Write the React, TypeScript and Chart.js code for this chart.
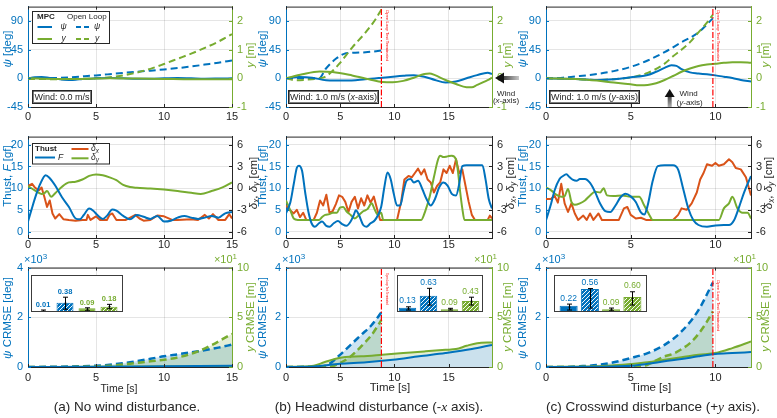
import React, { useEffect, useRef } from 'react';
import { Chart, registerables } from 'chart.js';
Chart.register(...registerables);

const FONT = '"Liberation Sans", Arial, Helvetica, sans-serif';
const SERIF = '"Liberation Serif", "DejaVu Serif", serif';
const BLUE = '#0072BD';
const GREEN = '#77AC30';
const ORANGE = '#D95319';
const RED = '#FF0000';
const INK = '#262626';
const GRID = 'rgba(38,38,38,0.12)';
const BLUE_FILL = 'rgba(0,114,189,0.2)';
const BLUE_FILL_SOLID = 'rgba(199,223,240,0.88)';
const GREEN_FILL = 'rgba(119,172,48,0.2)';

// ---------- ticks & ranges ----------
const timeTicks = [[0, 5, 10, 15], [0, 5, 10, 15], [0, 5, 10]];
const timeMax = [15, 19, 12.1];
const psiTicks = [-45, 0, 45, 90];
const psiRange = [-45, 112.5];
const yTicks = [-1, 0, 1, 2];
const yRange = [-1, 2.5];
const thrustTicks = [0, 5, 10, 15, 20];
const thrustRange = [-1.5, 21.9];
const deltaTicks = [-6, -3, 0, 3, 6];
const deltaRange = [-6.9, 7.14];
const crmsePsiTicks = [0, 2, 4];
const crmsePsiRange = [0, 4];
const crmseYTicks = [0, 5, 10];
const crmseYRange = [0, 10];
const olStop = [null, 8.8, 9.85];
const windArrowT = 7.3;

// ---------- (a) no wind ----------
const a1PsiMpc = [[0,0],[0.5,1.5],[1,2],[1.5,1],[2,-0.5],[3,-2.6],[3.5,-2.3],[4,-1],[5,0],[6,0.5],[7,0],[8,-0.5],[9,-0.5],[10,0],[11,0.5],[12,0],[13,-0.5],[14,-0.3],[15,0]];
const a1YMpc = [[0,0],[2,-0.02],[4,-0.02],[6,0],[8,-0.01],[10,-0.02],[12,-0.03],[15,-0.03]];
const a1PsiOL = [[0,0],[1,0.2],[2,0.6],[3,1.5],[4,3],[5,4.6],[6,6.5],[7,8.5],[8,10.3],[9,12],[10,14],[11,16],[12,18.5],[13,21.5],[14,24.5],[15,28]];
const a1YOL = [[0,-0.02],[2,-0.03],[4,-0.02],[5,0],[6,0.04],[7,0.1],[8,0.2],[9,0.33],[10,0.5],[11,0.68],[12,0.86],[13,1.06],[14,1.28],[15,1.54]];

const a2F = [[0,2.3],[0.3,5.5],[0.6,8.5],[0.9,11],[1.3,13],[1.6,12.3],[2,10.6],[2.5,7.9],[3,5.7],[3.5,3],[3.8,2.8],[4.1,3.8],[4.5,5.3],[4.8,4.8],[5.1,3.8],[5.5,2.9],[5.8,3.6],[6.2,5.1],[6.5,4.8],[7,3.6],[7.5,2.8],[8,3.8],[8.5,3.4],[9,2.9],[9.5,3.6],[10,2.3],[10.5,2.5],[11,3.2],[11.5,3.6],[12,3.2],[12.5,2.9],[13,3.2],[13.5,3.6],[14,3.2],[14.5,4.2],[15,4.5]];
const a2Dx = [[0,0.3],[0.3,0.6],[0.5,0.1],[0.8,-0.3],[1,0.1],[1.2,-1.2],[1.4,-2.6],[1.6,-1.7],[1.8,-3.5],[2,-4.2],[2.3,-3.6],[2.6,-4.3],[3,-4.4],[3.5,-4.5],[4,-4.4],[4.3,-4.4],[4.4,-3.7],[4.6,-4.4],[5,-3.9],[5.3,-4.4],[5.8,-4.4],[6,-3.7],[6.2,-3.5],[6.5,-4.4],[7.2,-4.4],[7.9,-3.7],[8.2,-4.2],[8.5,-4.5],[9,-4.4],[9.5,-3.8],[10,-3.9],[10.6,-4.4],[11,-4.4],[12,-4.3],[12.5,-4.4],[13,-3.7],[13.3,-4.2],[13.6,-3.6],[14,-4.4],[14.5,-4.4],[14.8,-3.6],[15,-4.2]];
const a2Dy = [[0,0.3],[0.5,-0.3],[1,-0.8],[1.2,-0.7],[1.4,-0.4],[1.7,-1.2],[2,-0.7],[2.5,0.2],[3,0.8],[3.5,0.9],[4,1.2],[4.5,1.7],[5,1.9],[5.5,1.8],[6,1.5],[6.5,1.1],[7,0.45],[7.5,0.15],[8,0.05],[9,-0.05],[10,-0.2],[11,-0.4],[12,-0.65],[12.7,-0.8],[13.5,-0.4],[14.3,0.1],[15,0.8]];

const a3PsiMpc = [[0,0],[5,0.01],[10,0.03],[15,0.05]];
const a3YMpc = [[0,0],[5,0.02],[10,0.04],[15,0.06]];
const a3PsiOL = [[0,0],[2,0.01],[4,0.03],[5,0.05],[6,0.09],[7.5,0.19],[9,0.33],[10,0.43],[11,0.51],[12.5,0.63],[14,0.78],[15,0.9]];
const a3YOL = [[0,0],[4,0.02],[6,0.12],[7.5,0.33],[9,0.58],[10,0.73],[11,0.95],[12.5,1.57],[13.5,2.2],[14.3,2.8],[15,3.33]];

// ---------- (b) headwind ----------
const b1PsiMpc = [[0,0],[1.2,2],[2.4,1],[3.7,-3],[5.5,-3.6],[7.3,-1.5],[8.9,1],[10.1,3],[10.82,4],[11.79,5],[12.76,2.6],[13.74,-2.6],[14.71,-6.7],[15.68,-5],[16.65,0],[17.63,5],[18.6,8.7],[19,6.7]];
const b1YMpc = [[0,0],[1.5,0.14],[3.1,0.24],[4.3,0.22],[6.1,0.1],[7.65,-0.03],[8.9,-0.13],[9.85,-0.14],[10.82,-0.09],[11.79,0.02],[12.76,0.15],[13.25,0.17],[13.74,0.11],[14.71,-0.06],[15.68,-0.2],[16.65,-0.31],[17.14,-0.31],[17.63,-0.23],[18.6,-0.06],[19,0.02]];
const b1PsiOL = [[0,0],[1.5,0],[3.06,0],[3.67,15],[4.6,30.6],[5.35,38.3],[6.1,39.9],[7.34,40.9],[8.8,43.5]];
const b1YOL = [[0,0],[0.9,-0.07],[1.8,-0.05],[3.06,0],[3.6,0.05],[4.3,0.26],[4.9,0.5],[6.12,1.08],[7.34,1.6],[8.26,2.06],[8.8,2.4]];

const b2F = [[0,4.2],[0.41,6.8],[0.71,10.9],[1.0,14.7],[1.19,15.2],[1.48,14],[1.77,9],[2.07,4.5],[2.36,1.9],[2.65,1.1],[3.04,1.9],[3.33,2.3],[3.72,1.3],[4.01,1.1],[4.4,1.9],[4.79,2.4],[5.18,1.7],[5.57,1.3],[5.96,2.3],[6.25,3.8],[6.44,4.9],[6.73,3.8],[7.12,1.5],[7.42,1.1],[7.8,1.9],[8.19,2.6],[8.49,3.8],[8.78,5.7],[9.07,10.2],[9.36,13.6],[9.65,12.1],[9.94,8.7],[10.24,6],[10.53,6],[10.82,9],[11.11,11.7],[11.5,12.1],[11.79,11.3],[12.18,11.7],[12.57,9.8],[12.96,7.5],[13.35,6],[13.74,7.5],[14.13,10.2],[14.52,11.3],[14.9,10.6],[15.29,8.7],[15.68,8.3],[15.97,10.9],[16.26,15.1],[16.65,15.3],[17.63,15.3],[18.11,15.3],[18.4,12.1],[18.7,7.5],[19,5.3]];
const b2Dx = [[0,-2.4],[0.41,-3.1],[0.71,-3.5],[1.0,-3.0],[1.29,-4.0],[1.58,-3.4],[1.87,-4.4],[2.55,-4.4],[2.85,-3.4],[3.14,-1.7],[3.43,-2.4],[3.72,-0.9],[4.01,-3.4],[4.3,-3.2],[4.6,-2.2],[4.89,-1.0],[5.18,-1.2],[5.47,-1.9],[5.76,-3.3],[6.05,-1.9],[6.35,-1.2],[6.64,-2.8],[6.93,-1.4],[7.22,-2.4],[7.51,-1.0],[7.8,-2.0],[8.1,-1.16],[8.39,-2.8],[8.68,-4.4],[10.24,-4.4],[10.62,-1.9],[10.92,1.2],[11.3,1.7],[11.6,1.5],[11.89,2.1],[12.18,2.7],[12.47,1.9],[12.76,2.6],[13.06,1.2],[13.35,0.8],[13.64,-0.6],[13.93,0.3],[14.22,0.8],[14.52,2.6],[14.81,2.1],[15.1,3.1],[15.39,2.1],[15.68,4.0],[15.97,2.1],[16.26,2.6],[16.56,0.3],[16.85,-1.9],[17.14,-3.7],[17.43,-4.4],[18.6,-4.4],[18.8,-3.8],[19,-4.2]];
const b2Dy = [[0,-1.7],[0.41,-3.1],[0.71,-4.2],[1.09,-4.4],[3.04,-4.4],[3.33,-4.0],[3.62,-3.7],[4.01,-3.6],[4.3,-3.4],[4.69,-3.4],[4.98,-2.7],[5.28,-2.6],[5.57,-3.2],[5.96,-3.7],[6.35,-4.2],[6.73,-3.7],[7.12,-3.2],[7.51,-2.9],[7.9,-2.1],[8.19,-3.0],[8.49,-3.7],[8.78,-3.4],[8.97,-4.4],[12.47,-4.4],[12.86,-3.1],[13.25,-1.2],[13.64,1.5],[14.03,4.0],[14.22,4.5],[14.52,4.3],[14.9,4.4],[15.29,4.5],[15.68,4.0],[15.88,2.1],[16.07,-0.6],[16.26,-2.8],[16.46,-4.4],[19,-4.4]];

const b3PsiMpc = [[0,0],[2.55,0.02],[4.98,0.13],[7.42,0.19],[9.85,0.29],[12.28,0.43],[14.71,0.56],[17.14,0.72],[19,0.89]];
const b3YMpc = [[0,0],[2.55,0.13],[3.52,0.47],[4.5,0.8],[5.47,1.0],[6.93,1.07],[8.87,1.23],[10.82,1.4],[12.76,1.57],[14.71,1.73],[15.68,1.8],[16.65,2.13],[17.63,2.4],[19,2.47]];
const b3PsiOL = [[0,0],[2,0.01],[3,0.02],[3.52,0.03],[4.01,0.13],[4.98,0.49],[5.96,0.89],[6.93,1.29],[7.9,1.69],[8.8,2.2]];
const b3YOL = [[0,0],[3,0],[4.01,0.02],[4.98,0.4],[5.96,1.07],[6.93,2.07],[7.9,3.23],[8.8,4.73]];

// ---------- (c) crosswind ----------
const c1PsiMpc = [[0,0],[1,-0.5],[2,-1.5],[3,-2.6],[4,-1.5],[5,1.5],[6,5.1],[6.5,10.3],[7,16.5],[7.4,20.6],[7.7,19.5],[8,14.4],[8.5,9.3],[9,7.7],[9.5,6.2],[10,4.6],[10.5,2.6],[11,0.5],[11.5,-2.6],[12.1,-5.1]];
const c1YMpc = [[0,0],[2,-0.03],[3,-0.08],[4,-0.15],[5,-0.21],[5.5,-0.24],[6,-0.23],[6.5,-0.17],[7,-0.06],[7.5,0.08],[8,0.23],[8.5,0.34],[9,0.43],[9.5,0.48],[10,0.51],[10.5,0.54],[11,0.56],[11.5,0.56],[12.1,0.54]];
const c1PsiOL = [[0,0],[1,1],[2,3.6],[3,6.7],[4,11.3],[5,18],[6,28],[7,41],[8,56.6],[9,72],[9.85,94]];
const c1YOL = [[0,0],[2,-0.03],[3,-0.06],[4,-0.03],[5,0.03],[6,0.19],[7,0.51],[7.5,0.77],[8,1.0],[8.5,1.26],[9,1.6],[9.5,1.94],[9.85,2.22]];

const c2F = [[0,2.6],[0.3,6.4],[0.5,9.4],[0.8,12.1],[1,12.8],[1.2,13.2],[1.4,12.5],[1.6,11.9],[1.8,11.7],[2,12.1],[2.3,12.1],[2.6,11.2],[2.9,9.1],[3.2,6.4],[3.5,4.7],[3.8,4.5],[4.1,6],[4.4,7.9],[4.7,8.7],[5,8.1],[5.3,6.8],[5.6,4.4],[5.8,3.9],[6,6],[6.3,11.7],[6.6,15.1],[7,15.3],[7.5,15.3],[7.8,14.3],[8.1,9.8],[8.4,5.3],[8.7,2.6],[9,1.5],[9.5,1.1],[10,1.4],[10.5,1.5],[10.8,1.5],[11.1,2.6],[11.4,5.7],[11.7,9.1],[12.1,12.8]];
const c2Dx = [[0,-1.5],[0.3,-1.5],[0.5,-1],[0.7,-2],[0.9,0.6],[1.1,-2.1],[1.3,-3.3],[1.5,-2.1],[1.7,-3.5],[1.9,-4.4],[2.2,-3.8],[2.4,-4.4],[2.6,-3.5],[2.8,-4.4],[3.1,-3.5],[3.3,-4.4],[4.3,-4.4],[4.6,-2.8],[4.8,-2.6],[5,-3.7],[5.3,-4.2],[5.6,-4.1],[5.9,-4.4],[7.5,-4.4],[7.8,-3.7],[8,-2.8],[8.3,-3.0],[8.6,-2.1],[8.9,-0.6],[9.1,1.2],[9.3,2.1],[9.5,3.3],[9.8,3.1],[10,3.5],[10.2,3.1],[10.5,3.3],[10.8,4],[11,3.6],[11.2,2.8],[11.5,2.6],[11.8,1.5],[12.1,-1]];
const c2Dy = [[0,0.1],[0.3,-0.3],[0.6,-0.9],[0.9,-1.2],[1.1,-1.1],[1.3,-0.1],[1.5,-1.9],[1.7,-2.3],[2,-2.1],[2.3,-1.7],[2.6,-1],[2.9,-0.5],[3.2,-0.6],[3.4,0],[3.6,-1],[4,-1.1],[4.5,-1.0],[5,-1.2],[5.5,-1.2],[5.8,-2.4],[6.1,-3.7],[6.3,-4.4],[10.2,-4.4],[10.5,-2.8],[10.8,-2.1],[11,-1.2],[11.3,-2.8],[11.6,-3.4],[11.9,-3.4],[12.1,-4.2]];

const c3PsiMpc = [[0,0],[3,0.01],[5,0.05],[6,0.13],[7,0.23],[8,0.32],[9,0.43],[10,0.52],[11,0.56],[12.1,0.6]];
const c3YMpc = [[0,0],[3,0.07],[4,0.17],[5,0.3],[6,0.47],[7,0.73],[8,0.97],[9,1.23],[10,1.4],[11,1.9],[12.1,2.57]];
const c3PsiOL = [[0,0],[1,0],[2,0.03],[3,0.08],[4,0.19],[5,0.36],[6,0.56],[7,0.89],[8,1.43],[9,2.29],[9.85,3.4]];
const c3YOL = [[0,0],[5,0.02],[6,0.23],[6.5,0.67],[7,1.07],[7.5,1.33],[8,1.8],[8.5,2.4],[9,3.33],[9.5,4.57],[9.85,5.6]];

// ---------- inset bars (MPC psi, OL psi, MPC y, OL y) ----------
const insetLabels = [['0.01', '0.38', '0.09', '0.18'], ['0.13', '0.63', '0.09', '0.43'], ['0.22', '0.56', '0.09', '0.60']];
const insetHeights = [[0.04, 0.38, 0.15, 0.21], [0.17, 0.66, 0.11, 0.45], [0.25, 0.93, 0.11, 0.61]];
const insetErrLo = [[0.01, 0.11, 0.05, 0.13], [0.08, 0.28, 0.08, 0.28], [0.08, 0.16, 0.05, 0.28]];
const insetErrHi = [[0.08, 0.6, 0.17, 0.31], [0.21, 0.96, 0.15, 0.6], [0.32, 0.95, 0.16, 0.82]];

// ---------- layout ----------
const COLS = [{ l: 28, r: 232 }, { l: 286, r: 492 }, { l: 546, r: 751 }];
const ROWS = [{ t: 5, b: 107 }, { t: 135, b: 238 }, { t: 266, b: 367 }];
const PAD_L = 28, PAD_R = 34, PAD_T = 10, PAD_B = 18;
const X_TICK_PAD = [3, 0, 4];
const TICK_FONT = 11;

const cellGeom = (col, row) => {
  const C = COLS[col], R = ROWS[row];
  return { left: C.l - PAD_L, top: R.t - PAD_T, width: C.r - C.l + PAD_L + PAD_R, height: R.b - R.t + PAD_T + PAD_B };
};

const pts = (a) => a.map(([x, y]) => ({ x, y }));

const line = (data, color, axis, dashed = false, width = 2, fill = null, mono = true, order = 0) => ({
  data: pts(data),
  borderColor: color,
  borderWidth: width,
  borderDash: dashed ? [7, 4] : [],
  yAxisID: axis,
  pointRadius: 0,
  cubicInterpolationMode: mono ? 'monotone' : 'default',
  tension: 0,
  fill: fill ? 'origin' : false,
  backgroundColor: fill || 'transparent',
  borderJoinStyle: 'round',
  order,
});

const redLine = (t, range) => ({
  data: [{ x: t, y: range[0] }, { x: t, y: range[1] }],
  borderColor: RED,
  borderWidth: 1.2,
  borderDash: [6, 2, 1.5, 2],
  yAxisID: 'y',
  pointRadius: 0,
  tension: 0,
  fill: false,
  order: -1,
});

// ---------- canvas text helpers ----------
function drawRich(ctx, segs, x, y, size, color, align = 'left') {
  ctx.save();
  ctx.fillStyle = color;
  ctx.textBaseline = 'middle';
  ctx.textAlign = 'left';
  const f = (s) => `${s.i ? 'italic ' : ''}${s.b ? 'bold ' : ''}${s.sub ? size * 0.75 : size}px ${FONT}`;
  let w = 0;
  segs.forEach((s) => { ctx.font = f(s); w += ctx.measureText(s.t).width; });
  let cx = align === 'center' ? x - w / 2 : x;
  segs.forEach((s) => {
    ctx.font = f(s);
    ctx.fillText(s.t, cx, s.sub ? y + size * 0.32 : y);
    cx += ctx.measureText(s.t).width;
  });
  ctx.restore();
}

function box(ctx, x, y, w, h) {
  ctx.save();
  ctx.fillStyle = '#fff';
  ctx.fillRect(x, y, w, h);
  ctx.strokeStyle = INK;
  ctx.lineWidth = 1;
  ctx.strokeRect(x + 0.5, y + 0.5, w - 1, h - 1);
  ctx.restore();
}

function sample(ctx, x1, x2, y, color, dashed) {
  ctx.save();
  ctx.strokeStyle = color;
  ctx.lineWidth = 2;
  ctx.setLineDash(dashed ? [5, 3] : []);
  ctx.beginPath();
  ctx.moveTo(x1, y);
  ctx.lineTo(x2, y);
  ctx.stroke();
  ctx.restore();
}

function redText(ctx, x, yTop, size) {
  ctx.save();
  ctx.translate(x, yTop);
  ctx.rotate(Math.PI / 2);
  ctx.font = `${size}px ${FONT}`;
  ctx.fillStyle = RED;
  ctx.textBaseline = 'middle';
  ctx.textAlign = 'left';
  ctx.fillText('Open Loop Test Terminated', 0, 0);
  ctx.restore();
}

const WIND_BOX = [{ x: 32, y: 90, w: 60, h: 14 }, { x: 288, y: 90, w: 91, h: 14 }, { x: 549, y: 90, w: 91, h: 14 }];
const WIND_SEGS = [
  [{ t: 'Wind: 0.0 m/s' }],
  [{ t: 'Wind: 1.0 m/s (' }, { t: 'x', i: true }, { t: '-axis)' }],
  [{ t: 'Wind: 1.0 m/s (' }, { t: 'y', i: true }, { t: '-axis)' }],
];

function windBox(ctx, col) {
  const b = WIND_BOX[col];
  box(ctx, b.x, b.y, b.w, b.h);
  ctx.save();
  ctx.strokeStyle = INK;
  ctx.lineWidth = 0.6;
  ctx.strokeRect(b.x + 1.5, b.y + 1.5, b.w - 3, b.h - 3);
  ctx.restore();
  drawRich(ctx, WIND_SEGS[col], b.x + b.w / 2, b.y + b.h / 2 + 0.5, 9, INK, 'center');
}

function arrowLeft(ctx, tipX, tailX, y) {
  ctx.save();
  const g = ctx.createLinearGradient(tipX, 0, tailX, 0);
  g.addColorStop(0, '#000');
  g.addColorStop(1, '#c8c8c8');
  ctx.fillStyle = g;
  ctx.fillRect(tipX + 7, y - 2, tailX - tipX - 7, 4);
  ctx.fillStyle = '#111';
  ctx.beginPath();
  ctx.moveTo(tipX, y);
  ctx.lineTo(tipX + 9, y - 5.5);
  ctx.lineTo(tipX + 9, y + 5.5);
  ctx.closePath();
  ctx.fill();
  ctx.restore();
}

function arrowUp(ctx, x, tipY, tailY) {
  ctx.save();
  const g = ctx.createLinearGradient(0, tipY, 0, tailY);
  g.addColorStop(0, '#000');
  g.addColorStop(1, '#b0b0b0');
  ctx.fillStyle = g;
  ctx.fillRect(x - 2, tipY + 7, 4, tailY - tipY - 7);
  ctx.fillStyle = '#111';
  ctx.beginPath();
  ctx.moveTo(x, tipY);
  ctx.lineTo(x - 5, tipY + 8);
  ctx.lineTo(x + 5, tipY + 8);
  ctx.closePath();
  ctx.fill();
  ctx.restore();
}

function drawFrame(chart, yc, y2c) {
  const { ctx, chartArea: a, scales } = chart;
  const tl = 3;
  ctx.save();
  ctx.lineWidth = 1;
  ctx.strokeStyle = INK;
  ctx.beginPath();
  ctx.moveTo(a.left, a.top + 0.5);
  ctx.lineTo(a.right, a.top + 0.5);
  ctx.stroke();
  scales.x.ticks.forEach((t) => {
    const p = Math.round(scales.x.getPixelForValue(t.value)) + 0.5;
    ctx.beginPath();
    ctx.moveTo(p, a.bottom);
    ctx.lineTo(p, a.bottom - tl);
    ctx.moveTo(p, a.top);
    ctx.lineTo(p, a.top + tl);
    ctx.stroke();
  });
  ctx.strokeStyle = yc;
  scales.y.ticks.forEach((t) => {
    const p = Math.round(scales.y.getPixelForValue(t.value)) + 0.5;
    ctx.beginPath();
    ctx.moveTo(a.left, p);
    ctx.lineTo(a.left + tl, p);
    ctx.stroke();
  });
  ctx.strokeStyle = y2c;
  scales.y2.ticks.forEach((t) => {
    const p = Math.round(scales.y2.getPixelForValue(t.value)) + 0.5;
    ctx.beginPath();
    ctx.moveTo(a.right, p);
    ctx.lineTo(a.right - tl, p);
    ctx.stroke();
  });
  ctx.restore();
}

// ---------- cell definitions ----------
const ROW1 = [[a1PsiMpc, a1YMpc, a1PsiOL, a1YOL], [b1PsiMpc, b1YMpc, b1PsiOL, b1YOL], [c1PsiMpc, c1YMpc, c1PsiOL, c1YOL]];
const ROW2 = [[a2F, a2Dx, a2Dy], [b2F, b2Dx, b2Dy], [c2F, c2Dx, c2Dy]];
const ROW3 = [[a3PsiMpc, a3YMpc, a3PsiOL, a3YOL], [b3PsiMpc, b3YMpc, b3PsiOL, b3YOL], [c3PsiMpc, c3YMpc, c3PsiOL, c3YOL]];

function cellSpec(col, row) {
  const stop = olStop[col];
  if (row === 0) {
    const [pm, ym, po, yo] = ROW1[col];
    return {
      left: { range: psiRange, ticks: psiTicks, color: BLUE },
      right: { range: yRange, ticks: yTicks, color: GREEN },
      datasets: [
        ...(stop ? [redLine(stop, psiRange)] : []),
        line(ym, GREEN, 'y2', false, 2, null, true, 0),
        line(pm, BLUE, 'y', false, 2, null, true, 1),
        line(yo, GREEN, 'y2', true, 2, null, true, 2),
        line(po, BLUE, 'y', true, 2, null, true, 3),
      ],
      draw: (ctx, chart, g) => {
        windBox(ctx, col);
        if (col === 0) {
          box(ctx, 32, 11, 78, 33);
          drawRich(ctx, [{ t: 'MPC', b: true }], 37, 17, 8, INK);
          drawRich(ctx, [{ t: 'Open Loop' }], 67, 17, 8, INK);
          sample(ctx, 37.5, 52, 27, BLUE, false);
          drawRich(ctx, [{ t: 'ψ', i: true }], 63.5, 27, 8.5, INK, 'center');
          sample(ctx, 76, 90.5, 27, BLUE, true);
          drawRich(ctx, [{ t: 'ψ', i: true }], 97, 27, 8.5, INK, 'center');
          sample(ctx, 37.5, 52, 39, GREEN, false);
          drawRich(ctx, [{ t: 'y', i: true }], 63.5, 38.5, 8.5, INK, 'center');
          sample(ctx, 76, 90.5, 39, GREEN, true);
          drawRich(ctx, [{ t: 'y', i: true }], 97, 38.5, 8.5, INK, 'center');
        }
        if (stop) {
          const px = chart.scales.x.getPixelForValue(stop) + g.left;
          redText(ctx, px + 5.5, 10, 4.2);
        }
        if (col === 1) {
          arrowLeft(ctx, 495, 519, 78);
          drawRich(ctx, [{ t: 'Wind' }], 506, 93.5, 8, INK, 'center');
          drawRich(ctx, [{ t: '(' }, { t: 'x', i: true }, { t: '-axis)' }], 506, 101, 8, INK, 'center');
        }
        if (col === 2) {
          const ax = chart.scales.x.getPixelForValue(windArrowT) + g.left;
          arrowUp(ctx, ax, 89, 107);
          drawRich(ctx, [{ t: 'Wind' }], ax + 19, 93.5, 8, INK, 'center');
          drawRich(ctx, [{ t: '(' }, { t: 'y', i: true }, { t: '-axis)' }], ax + 20, 103, 8, INK, 'center');
        }
      },
      yc: BLUE, y2c: GREEN,
    };
  }
  if (row === 1) {
    const [F, dx, dy] = ROW2[col];
    return {
      left: { range: thrustRange, ticks: thrustTicks, color: BLUE },
      right: { range: deltaRange, ticks: deltaTicks, color: INK },
      datasets: [
        line(F, BLUE, 'y', false, 2, null, true, 0),
        line(dy, GREEN, 'y2', false, 2, null, true, 1),
        line(dx, ORANGE, 'y2', false, 2, null, false, 2),
      ],
      draw: (ctx) => {
        if (col === 0) {
          box(ctx, 32, 143, 78, 21.5);
          drawRich(ctx, [{ t: 'Thust', b: true }], 35, 149, 8, INK);
          sample(ctx, 35, 55, 157.5, BLUE, false);
          drawRich(ctx, [{ t: 'F', i: true }], 58, 157.5, 8.5, INK);
          sample(ctx, 71.5, 88.5, 149, ORANGE, false);
          drawRich(ctx, [{ t: 'δ', i: true }, { t: 'x', i: true, sub: true }], 91, 148.5, 8.5, INK);
          sample(ctx, 71.5, 88.5, 158.3, GREEN, false);
          drawRich(ctx, [{ t: 'δ', i: true }, { t: 'y', i: true, sub: true }], 91, 157.5, 8.5, INK);
        }
      },
      yc: BLUE, y2c: INK,
    };
  }
  const [pm, ym, po, yo] = ROW3[col];
  return {
    left: { range: crmsePsiRange, ticks: crmsePsiTicks, color: BLUE },
    right: { range: crmseYRange, ticks: crmseYTicks, color: GREEN },
    datasets: [
      ...(stop ? [redLine(stop, crmsePsiRange)] : []),
      line(pm, BLUE, 'y', false, 2, BLUE_FILL_SOLID, true, 0),
      line(ym, GREEN, 'y2', false, 2, GREEN_FILL, true, 1),
      line(yo, GREEN, 'y2', true, 2.5, GREEN_FILL, true, 2),
      line(po, BLUE, 'y', true, 2.5, BLUE_FILL, true, 3),
    ],
    draw: (ctx, chart, g) => {
      if (stop) {
        const px = chart.scales.x.getPixelForValue(stop) + g.left;
        if (col === 1) redText(ctx, px + 5, 273, 2.6);
        else redText(ctx, px + 5.5, 280, 4.2);
      }
    },
    yc: BLUE, y2c: GREEN,
  };
}

const CELLS = [];
for (let row = 0; row < 3; row++) for (let col = 0; col < 3; col++) CELLS.push({ col, row });

function buildCell(canvas, col, row) {
  const spec = cellSpec(col, row);
  const g = cellGeom(col, row);
  const tickFont = { family: FONT, size: TICK_FONT };
  const yScale = (pos, s, width, grid) => ({
    type: 'linear',
    position: pos,
    min: s.range[0],
    max: s.range[1],
    afterBuildTicks: (sc) => { sc.ticks = s.ticks.map((v) => ({ value: v })); },
    afterFit: (sc) => { sc.width = width; },
    ticks: { color: s.color, font: tickFont, padding: 5, autoSkip: false, callback: (v) => String(v) },
    grid: { display: grid, color: GRID, drawTicks: false },
    border: { display: true, color: s.color, width: 1 },
  });
  return new Chart(canvas, {
    type: 'line',
    data: { datasets: spec.datasets },
    options: {
      responsive: false,
      animation: false,
      devicePixelRatio: 1,
      events: [],
      layout: { padding: { top: PAD_T, left: 0, right: 0, bottom: 0 } },
      plugins: { legend: { display: false }, tooltip: { enabled: false }, filler: { drawTime: 'beforeDatasetsDraw' } },
      scales: {
        x: {
          type: 'linear',
          min: 0,
          max: timeMax[col],
          afterBuildTicks: (sc) => { sc.ticks = timeTicks[col].map((v) => ({ value: v })); },
          afterFit: (sc) => { sc.height = PAD_B; },
          ticks: { color: INK, font: tickFont, padding: X_TICK_PAD[row], autoSkip: false, maxRotation: 0, callback: (v) => String(v) },
          grid: { color: GRID, drawTicks: false },
          border: { display: true, color: INK, width: 1 },
        },
        y: yScale('left', spec.left, PAD_L, true),
        y2: yScale('right', spec.right, PAD_R, false),
      },
    },
    plugins: [{
      id: 'annot',
      afterDraw(chart) {
        drawFrame(chart, spec.yc, spec.y2c);
        const ctx = chart.ctx;
        ctx.save();
        ctx.translate(-g.left, -g.top);
        spec.draw(ctx, chart, g);
        ctx.restore();
      },
    }],
  });
}

// ---------- insets ----------
const INSET_BOX = [
  { x: 31, y: 275, w: 92, h: 37, pl: 1, pr: 3, bp: 0.77 },
  { x: 397, y: 275, w: 86, h: 37, pl: 0, pr: 2, bp: 0.83 },
  { x: 554, y: 275, w: 93, h: 37, pl: 4, pr: 4, bp: 0.85 },
];

function hatch(color) {
  const c = document.createElement('canvas');
  c.width = 4; c.height = 4;
  const x = c.getContext('2d');
  x.fillStyle = color;
  x.fillRect(0, 0, 4, 4);
  x.strokeStyle = 'rgba(255,255,255,0.95)';
  x.lineWidth = 1;
  x.beginPath();
  x.moveTo(0, 4); x.lineTo(4, 0);
  x.moveTo(-1, 1); x.lineTo(1, -1);
  x.moveTo(3, 5); x.lineTo(5, 3);
  x.stroke();
  return x.createPattern(c, 'repeat');
}

function buildInset(canvas, i) {
  const b = INSET_BOX[i];
  const pb = hatch(BLUE), pg = hatch(GREEN);
  const labelColors = [BLUE, BLUE, GREEN, GREEN];
  return new Chart(canvas, {
    type: 'bar',
    data: {
      labels: ['MPC ψ', 'Open Loop ψ', 'MPC y', 'Open Loop y'],
      datasets: [{
        data: insetHeights[i],
        backgroundColor: [BLUE, pb, GREEN, pg],
        borderColor: [BLUE, BLUE, GREEN, GREEN],
        borderWidth: 1,
        barPercentage: b.bp,
        categoryPercentage: 1,
      }],
    },
    options: {
      responsive: false,
      animation: false,
      devicePixelRatio: 1,
      events: [],
      layout: { padding: { left: b.pl, right: b.pr, top: 0, bottom: 0 } },
      plugins: { legend: { display: false }, tooltip: { enabled: false } },
      scales: { x: { display: false }, y: { display: false, min: 0, max: 1.5 } },
    },
    plugins: [{
      id: 'inset',
      afterDraw(chart) {
        const ctx = chart.ctx;
        const ys = chart.scales.y;
        const bars = chart.getDatasetMeta(0).data;
        ctx.save();
        ctx.strokeStyle = '#000';
        ctx.lineWidth = 1;
        bars.forEach((bar, k) => {
          const x = Math.round(bar.x) + 0.5;
          const yt = ys.getPixelForValue(insetErrHi[i][k]);
          const yb = ys.getPixelForValue(insetErrLo[i][k]);
          ctx.beginPath();
          ctx.moveTo(x, yt); ctx.lineTo(x, yb);
          ctx.moveTo(x - 2.5, yt); ctx.lineTo(x + 2.5, yt);
          ctx.moveTo(x - 2.5, yb); ctx.lineTo(x + 2.5, yb);
          ctx.stroke();
          ctx.fillStyle = '#000';
          ctx.fillRect(x - 1, (yt + yb) / 2 - 0.5, 2, 1);
          ctx.font = `${i === 0 ? 'bold ' : ''}${i === 0 ? 7.5 : 8.5}px ${FONT}`;
          ctx.fillStyle = labelColors[k];
          ctx.textAlign = 'center';
          ctx.textBaseline = 'bottom';
          ctx.fillText(insetLabels[i][k], bar.x, yt - 1.5);
        });
        ctx.strokeStyle = '#3c3c3c';
        ctx.strokeRect(0.5, 0.5, chart.width - 1, chart.height - 1);
        ctx.restore();
      },
    }],
  });
}

// ---------- HTML text ----------
const I = ({ children }) => <span style={{ fontStyle: 'italic' }}>{children}</span>;
const M = ({ children }) => <span style={{ fontStyle: 'italic', fontFamily: SERIF }}>{children}</span>;
const Sub = ({ children }) => <span style={{ fontSize: '0.72em', position: 'relative', top: '0.3em', fontStyle: 'italic' }}>{children}</span>;

const LEFT_TITLE_X = [7.5, 263, 523];
const RIGHT_TITLE_X = [251, 508, 766];
const RIGHT_TITLE_SHIFT = [0, 2.5, 0];
const TITLE_Y = [[49, 55], [176, 183], [318, 317]];
const TITLES = [
  [<><I>ψ</I> [deg]</>, <><I>y</I> [m]</>],
  [<>Thust, <I>F</I> [gf]</>, <><I>δ</I><Sub>x</Sub>, <I>δ</I><Sub>y</Sub> [cm]</>],
  [<><I>ψ</I> CRMSE [deg]</>, <><I>y</I> CRMSE [m]</>],
];
const TITLE_COLORS = [[BLUE, GREEN], [BLUE, INK], [BLUE, GREEN]];
const TIME_X = [119, 390, 651];
const CAPTION_X = [127, 379, 653];
const CAPTIONS = [
  <>(a) No wind disturbance.</>,
  <>(b) Headwind disturbance (-<M>x</M> axis).</>,
  <>(c) Crosswind disturbance (+<M>y</M> axis).</>,
];

const VText = ({ x, y, color, children }) => (
  <div style={{ position: 'absolute', left: x, top: y, transform: 'translate(-50%,-50%) rotate(-90deg)', whiteSpace: 'nowrap', color, fontSize: 11.5, lineHeight: 1 }}>{children}</div>
);
const HText = ({ x, y, size, color = INK, children }) => (
  <div style={{ position: 'absolute', left: x, top: y, transform: 'translate(-50%,-50%)', whiteSpace: 'nowrap', color, fontSize: size, lineHeight: 1 }}>{children}</div>
);

export default function App() {
  const cellRefs = useRef([]);
  const insetRefs = useRef([]);
  useEffect(() => {
    const charts = [];
    CELLS.forEach((c, i) => {
      const cv = cellRefs.current[i];
      if (cv) charts.push(buildCell(cv, c.col, c.row));
    });
    [0, 1, 2].forEach((i) => {
      const cv = insetRefs.current[i];
      if (cv) charts.push(buildInset(cv, i));
    });
    return () => charts.forEach((c) => c.destroy());
  }, []);

  return (
    <div style={{ position: 'absolute', left: 0, top: 0, width: 777, height: 418, overflow: 'hidden', background: '#fff', fontFamily: FONT }}>
      {CELLS.map((c, i) => {
        const g = cellGeom(c.col, c.row);
        return (
          <canvas key={`c${i}`} ref={(el) => { cellRefs.current[i] = el; }} width={g.width} height={g.height}
            style={{ position: 'absolute', left: g.left, top: g.top, width: g.width, height: g.height }} />
        );
      })}
      {INSET_BOX.map((b, i) => (
        <canvas key={`i${i}`} ref={(el) => { insetRefs.current[i] = el; }} width={b.w} height={b.h}
          style={{ position: 'absolute', left: b.x, top: b.y, width: b.w, height: b.h, background: '#fff' }} />
      ))}
      {[0, 1, 2].map((col) => [0, 1, 2].map((row) => (
        <React.Fragment key={`t${col}${row}`}>
          <VText x={LEFT_TITLE_X[col]} y={TITLE_Y[row][0]} color={TITLE_COLORS[row][0]}>{TITLES[row][0]}</VText>
          <VText x={RIGHT_TITLE_X[col] + RIGHT_TITLE_SHIFT[row]} y={TITLE_Y[row][1]} color={TITLE_COLORS[row][1]}>{TITLES[row][1]}</VText>
        </React.Fragment>
      )))}
      {[0, 1, 2].map((col) => (
        <React.Fragment key={`x${col}`}>
          <div style={{ position: 'absolute', left: COLS[col].l - 4, top: 254, fontSize: 11, lineHeight: 1, color: BLUE, whiteSpace: 'nowrap' }}>
            ×10<span style={{ fontSize: 8, position: 'relative', top: -4 }}>3</span>
          </div>
          <div style={{ position: 'absolute', left: COLS[col].r + 5, top: 254, transform: 'translateX(-100%)', fontSize: 11, lineHeight: 1, color: GREEN, whiteSpace: 'nowrap' }}>
            ×10<span style={{ fontSize: 8, position: 'relative', top: -4 }}>1</span>
          </div>
          <HText x={TIME_X[col]} y={387.5} size={col === 0 ? 10.5 : 11.5}>Time [s]</HText>
          <HText x={CAPTION_X[col]} y={406.5} size={13.5}>{CAPTIONS[col]}</HText>
        </React.Fragment>
      ))}
    </div>
  );
}
